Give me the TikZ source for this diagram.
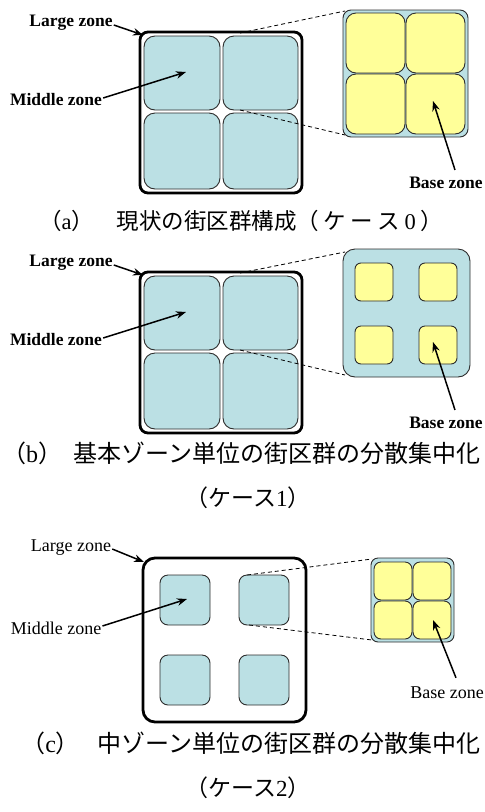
\documentclass[tikz,border=0pt]{standalone}
\usepackage{fontspec}
\setmainfont{Liberation Serif}
\newfontfamily\cjk{Noto Sans CJK JP}
\usetikzlibrary{arrows.meta}
\definecolor{zoneblue}{RGB}{187,224,228}
\definecolor{zoneyellow}{RGB}{255,255,153}
\definecolor{edgegrey}{RGB}{45,45,45}
\newcommand{\ks}{\hspace{4.5pt}}
\begin{document}
\begin{tikzpicture}[x=1pt,y=-1pt,
  sz/.style 2 args={minimum width=#1pt,minimum height=#2pt},
  large/.style={draw=black,line width=2.8pt,fill=white,rounded corners=#1,inner sep=0,outer sep=0},
  mid/.style={draw=edgegrey,line width=0.9pt,fill=zoneblue,rounded corners=#1,inner sep=0,outer sep=0},
  zbox/.style={draw=edgegrey,line width=0.9pt,fill=zoneblue,rounded corners=#1,inner sep=0,outer sep=0},
  base/.style={draw=edgegrey,line width=0.9pt,fill=zoneyellow,rounded corners=#1,inner sep=0,outer sep=0},
  zoomline/.style={dash pattern=on 4pt off 3pt,line width=0.8pt},
  ptr/.style={-{Stealth[length=10pt,width=7.5pt]},line width=1.5pt},
  lblb/.style={font=\fontsize{17.5}{20}\selectfont\bfseries,inner sep=0},
  lblr/.style={font=\fontsize{18}{20}\selectfont,inner sep=0},
  capa/.style={font=\fontsize{22.5}{27}\selectfont,inner sep=0},
  capt/.style={font=\fontsize{24}{28}\selectfont,inner sep=0},
  caps/.style={font=\fontsize{23}{27}\selectfont,inner sep=0}
]
\useasboundingbox (0,0) rectangle (485,812);

% ---------------- (a) ----------------
\node[large=8pt,sz={162}{161}] (La) at (221,112.5) {};
\node[mid=11pt,sz={76}{74}] (a11) at (182,73) {};
\node[mid=11pt,sz={75}{74}] (a12) at (260.5,73) {};
\node[mid=11pt,sz={76}{76}] (a21) at (182,151) {};
\node[mid=11pt,sz={75}{76}] (a22) at (260.5,151) {};
\node[zbox=8pt,sz={125}{127}] (Za) at (405.5,73.5) {};
\node[base=10pt,sz={59}{60}] (ya11) at (375.5,43) {};
\node[base=10pt,sz={59}{60}] (ya12) at (435.5,43) {};
\node[base=10pt,sz={59}{60}] (ya21) at (375.5,104) {};
\node[base=10pt,sz={59}{60}] (ya22) at (435.5,104) {};
\coordinate (aT) at (240,33);
\coordinate (aB) at (240,110);
\draw[zoomline] (aT) -- ([shift={(2,1)}]Za.north west);
\draw[zoomline] (aB) -- ([shift={(2,-2)}]Za.south west);
\node[lblb] (LZa) at (71,23) {Large zone};
\node[lblb] (MZa) at (56,100) {Middle zone};
\node[lblb] (BZa) at (446,183) {Base zone};
\draw[ptr] ([shift={(1,2)}]LZa.east) -- ([shift={(3,3)}]La.north west);
\draw[ptr] ([shift={(1,-2)}]MZa.east) -- ([shift={(4,-1)}]a11.center);
\draw[ptr] ([shift={(9,-7)}]BZa.north) -- ([shift={(-2.5,-3)}]ya22.center);
\node[capa,anchor=west] (Ca) at (39,221) {{\cjk （}a{\cjk ）　現状の街区群構成（\ks ケ\ks ー\ks ス\ks}0\ks{\cjk ）}};

% ---------------- (b) ----------------
\node[large=8pt,sz={162}{161}] (Lb) at (221,352.5) {};
\node[mid=11pt,sz={76}{74}] (b11) at (182,313) {};
\node[mid=11pt,sz={75}{74}] (b12) at (260.5,313) {};
\node[mid=11pt,sz={76}{76}] (b21) at (182,391) {};
\node[mid=11pt,sz={75}{76}] (b22) at (260.5,391) {};
\node[zbox=12pt,sz={127}{128}] (Zb) at (406.5,313) {};
\node[base=6pt,sz={38}{38}] (yb11) at (374,282) {};
\node[base=6pt,sz={38}{38}] (yb12) at (438,282) {};
\node[base=6pt,sz={38}{38}] (yb21) at (374,345) {};
\node[base=6pt,sz={38}{38}] (yb22) at (438,345) {};
\coordinate (bT) at (240,273);
\coordinate (bB) at (240,350);
\draw[zoomline] (bT) -- ([shift={(2,3)}]Zb.north west);
\draw[zoomline] (bB) -- ([shift={(2,-2)}]Zb.south west);
\node[lblb] (LZb) at (71,263) {Large zone};
\node[lblb] (MZb) at (56,340) {Middle zone};
\node[lblb] (BZb) at (446,423) {Base zone};
\draw[ptr] ([shift={(1,2)}]LZb.east) -- ([shift={(3,3)}]Lb.north west);
\draw[ptr] ([shift={(1,-2)}]MZb.east) -- ([shift={(4,-1)}]b11.center);
\draw[ptr] ([shift={(9,-7)}]BZb.north) -- ([shift={(-5,-3)}]yb22.center);
\node[capt,anchor=east] (Cb1) at (481,453) {{\cjk （}b{\cjk ）}\hspace{0.5em}{\cjk 基本ゾーン単位の街区群の分散集中化}};
\node[caps] (Cb2) at (248,498) {{\cjk （ケース}1{\cjk ）}};

% ---------------- (c) ----------------
\node[large=12pt,sz={163}{164}] (Lc) at (224.5,640) {};
\node[mid=8pt,sz={50}{50}] (c11) at (185,600) {};
\node[mid=8pt,sz={50}{50}] (c12) at (264,600) {};
\node[mid=8pt,sz={50}{50}] (c21) at (185,680) {};
\node[mid=8pt,sz={50}{50}] (c22) at (264,680) {};
\node[zbox=7pt,sz={83}{84}] (Zc) at (412.5,600) {};
\node[base=7pt,sz={38}{38}] (yc11) at (393,581) {};
\node[base=7pt,sz={38}{38}] (yc12) at (432,581) {};
\node[base=7pt,sz={38}{38}] (yc21) at (393,620) {};
\node[base=7pt,sz={38}{38}] (yc22) at (432,620) {};
\draw[zoomline] ([shift={(8,0)}]c12.north west) -- ([shift={(1,1)}]Zc.north west);
\draw[zoomline] ([shift={(10,0)}]c12.south west) -- ([shift={(1,-2)}]Zc.south west);
\node[lblr] (LZc) at (71,548) {Large zone};
\node[lblr] (MZc) at (56,628) {Middle zone};
\node[lblr] (BZc) at (447,693) {Base zone};
\draw[ptr] ([shift={(1,1)}]LZc.east) -- ([shift={(1,4)}]Lc.north west);
\draw[ptr] ([shift={(1,-2)}]MZc.east) -- ([shift={(2,-1)}]c11.center);
\draw[ptr] ([shift={(9,-9)}]BZc.north) -- ([shift={(1,0)}]yc22.center);
\node[capt,anchor=east] (Cc1) at (481,743) {{\cjk （}c{\cjk ）}\hspace{0.75em}{\cjk 中ゾーン単位の街区群の分散集中化}};
\node[caps] (Cc2) at (248,788) {{\cjk （ケース}2{\cjk ）}};
\end{tikzpicture}
\end{document}
